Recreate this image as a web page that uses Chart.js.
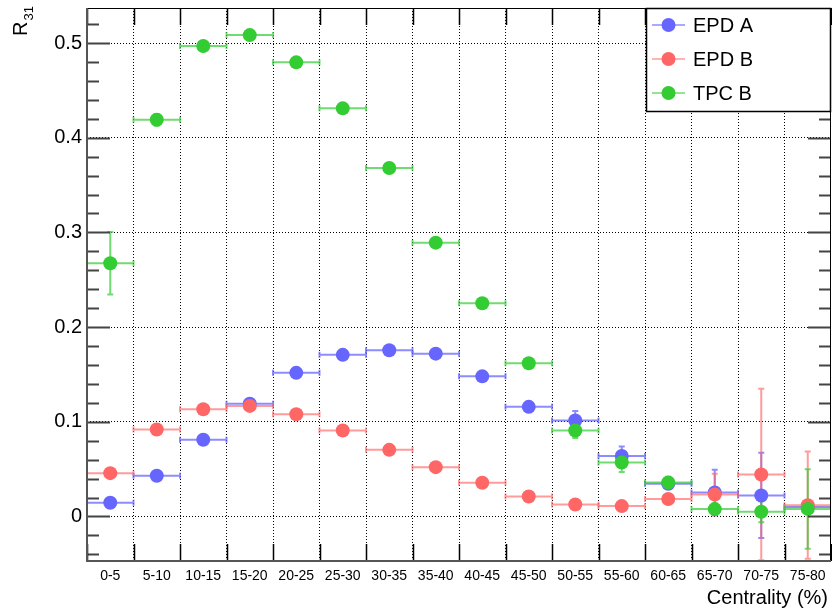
<!DOCTYPE html>
<html>
<head>
<meta charset="utf-8">
<script src="https://cdn.jsdelivr.net/npm/chart.js@4.4.1/dist/chart.umd.min.js"></script>
<style>
  html, body { margin: 0; padding: 0; background: #fff; }
  #wrap { width: 832px; height: 612px; }
</style>
</head>
<body>
<div id="wrap"><canvas id="r31-chart" width="832" height="612"></canvas></div>
<script>
var centrality = ['0-5', '5-10', '10-15', '15-20', '20-25', '25-30', '30-35', '35-40',
  '40-45', '45-50', '50-55', '55-60', '60-65', '65-70', '70-75', '75-80'];

var epdA = [0.0145, 0.043, 0.081, 0.119, 0.1517, 0.1707, 0.1756, 0.172,
  0.148, 0.1158, 0.1013, 0.064, 0.0345, 0.0253, 0.0222, 0.010];
var epdAErr = [0.002, 0.002, 0.002, 0.002, 0.002, 0.002, 0.002, 0.002,
  0.002, 0.003, 0.010, 0.010, 0.004, 0.024, 0.045, 0.004];

var epdB = [0.0458, 0.0918, 0.1133, 0.1168, 0.108, 0.0908, 0.0704, 0.0521,
  0.0356, 0.0211, 0.0127, 0.011, 0.0184, 0.0232, 0.0443, 0.012];
var epdBErr = [0.002, 0.002, 0.002, 0.002, 0.002, 0.002, 0.002, 0.002,
  0.002, 0.002, 0.003, 0.003, 0.004, 0.022, 0.0905, 0.0566];

var tpcB = [0.2674, 0.419, 0.4968, 0.5084, 0.4796, 0.431, 0.368, 0.2892,
  0.2252, 0.1619, 0.0908, 0.057, 0.0359, 0.0078, 0.005, 0.008];
var tpcBErr = [0.033, 0.006, 0.003, 0.003, 0.003, 0.003, 0.003, 0.003,
  0.003, 0.005, 0.008, 0.010, 0.006, 0.006, 0.011, 0.042];

var yTicks = [-0.04, -0.02, 0, 0.02, 0.04, 0.06, 0.08, 0.1, 0.12, 0.14, 0.16, 0.18,
  0.2, 0.22, 0.24, 0.26, 0.28, 0.3, 0.32, 0.34, 0.36, 0.38, 0.4, 0.42, 0.44,
  0.46, 0.48, 0.5, 0.52];
var yLabels = ['0', '0.1', '0.2', '0.3', '0.4', '0.5'];

// bin edges and centres come from the labels
var binLo = centrality.map(function (c) { return parseFloat(c.split('-')[0]); });
var binHi = centrality.map(function (c) { return parseFloat(c.split('-')[1]); });
var binMid = binLo.map(function (lo, i) { return (lo + binHi[i]) / 2; });
var binEdges = binLo.concat([binHi[binHi.length - 1]]);

var FONT = '"Liberation Sans", Arial, Helvetica, sans-serif';

function points(values) {
  return values.map(function (v, i) { return { x: binMid[i], y: v }; });
}

function isMajor(v) {
  return yLabels.indexOf(String(Math.round(v * 10) / 10)) >= 0 &&
    Math.abs(v * 10 - Math.round(v * 10)) < 1e-6;
}

var series = [
  { label: 'EPD A', data: epdA, err: epdAErr, color: 'rgb(102,102,255)', bar: 'rgba(102,102,255,0.75)', order: 3 },
  { label: 'EPD B', data: epdB, err: epdBErr, color: 'rgb(255,102,102)', bar: 'rgba(255,102,102,0.65)', order: 2 },
  { label: 'TPC B', data: tpcB, err: tpcBErr, color: 'rgb(51,204,51)', bar: 'rgba(51,204,51,0.7)', order: 1 }
];

// horizontal bin-width bars and vertical error bars, drawn under the markers
var errorBars = {
  id: 'errorBars',
  beforeDatasetsDraw: function (chart) {
    var ctx = chart.ctx, a = chart.chartArea;
    var xs = chart.scales.x, ys = chart.scales.y;
    ctx.save();
    ctx.beginPath();
    ctx.rect(a.left, a.top, a.right - a.left, a.bottom - a.top);
    ctx.clip();
    series.forEach(function (s) {
      ctx.strokeStyle = s.bar;
      ctx.lineWidth = 2;
      s.data.forEach(function (v, i) {
        var x0 = xs.getPixelForValue(binLo[i]);
        var x1 = xs.getPixelForValue(binHi[i]);
        var xm = xs.getPixelForValue(binMid[i]);
        var y = ys.getPixelForValue(v);
        var yt = ys.getPixelForValue(v + s.err[i]);
        var yb = ys.getPixelForValue(v - s.err[i]);
        ctx.beginPath();
        ctx.moveTo(x0, y); ctx.lineTo(x1, y);
        ctx.moveTo(x0, y - 3); ctx.lineTo(x0, y + 3);
        ctx.moveTo(x1, y - 3); ctx.lineTo(x1, y + 3);
        ctx.moveTo(xm, yt); ctx.lineTo(xm, yb);
        ctx.moveTo(xm - 3, yt); ctx.lineTo(xm + 3, yt);
        ctx.moveTo(xm - 3, yb); ctx.lineTo(xm + 3, yb);
        ctx.stroke();
      });
    });
    ctx.restore();
  }
};

// frame with inward ticks, axis titles and the legend box
var frame = {
  id: 'frame',
  afterDraw: function (chart) {
    var ctx = chart.ctx, a = chart.chartArea;
    var xs = chart.scales.x, ys = chart.scales.y;
    ctx.save();

    ctx.strokeStyle = '#444';
    ctx.lineWidth = 2;
    ys.ticks.forEach(function (t) {
      var y = Math.round(ys.getPixelForValue(t.value)) + 0.5;
      var len = isMajor(t.value) ? 23 : 12;
      ctx.beginPath();
      ctx.moveTo(a.left, y); ctx.lineTo(a.left + len, y);
      ctx.moveTo(a.right, y); ctx.lineTo(a.right - len, y);
      ctx.stroke();
    });
    ctx.strokeStyle = '#000';
    ctx.lineWidth = 1.5;
    xs.ticks.forEach(function (t) {
      var x = Math.round(xs.getPixelForValue(t.value)) + 0.5;
      ctx.beginPath();
      ctx.moveTo(x, a.bottom); ctx.lineTo(x, a.bottom - 17);
      ctx.moveTo(x, a.top); ctx.lineTo(x, a.top + 17);
      ctx.stroke();
    });

    ctx.lineWidth = 1;
    ctx.strokeStyle = '#000';
    ctx.strokeRect(a.left + 0.5, a.top + 0.5, a.right - a.left - 1, a.bottom - a.top);
    ctx.strokeStyle = '#555';
    ctx.lineWidth = 2;
    ctx.beginPath();
    ctx.moveTo(a.left, a.top); ctx.lineTo(a.left, a.bottom);
    ctx.lineTo(a.right, a.bottom);
    ctx.stroke();

    // axis titles
    ctx.fillStyle = '#000';
    ctx.textAlign = 'right';
    ctx.textBaseline = 'alphabetic';
    ctx.font = '20px ' + FONT;
    ctx.fillText('Centrality (%)', 828, 604);

    ctx.save();
    ctx.translate(27, 36);
    ctx.rotate(-Math.PI / 2);
    ctx.textAlign = 'left';
    ctx.font = '20px ' + FONT;
    ctx.fillText('R', 0, 0);
    ctx.font = '13px ' + FONT;
    ctx.fillText('31', 15.5, 6);
    ctx.restore();

    // legend
    var lx = 646, ly = 8, lw = 185, lh = 103;
    ctx.fillStyle = '#fff';
    ctx.fillRect(lx, ly, lw, lh);
    ctx.strokeStyle = '#000';
    ctx.lineWidth = 1.5;
    ctx.strokeRect(lx + 0.5, ly + 0.5, lw - 1, lh);
    ctx.font = '20px ' + FONT;
    ctx.textAlign = 'left';
    ctx.textBaseline = 'middle';
    series.forEach(function (s, i) {
      var y = 25 + i * 34;
      ctx.strokeStyle = s.bar;
      ctx.lineWidth = 1.5;
      ctx.beginPath();
      ctx.moveTo(652, y); ctx.lineTo(685, y);
      ctx.stroke();
      ctx.fillStyle = s.color;
      ctx.beginPath();
      ctx.arc(668.5, y, 7, 0, Math.PI * 2);
      ctx.fill();
      ctx.fillStyle = '#000';
      ctx.fillText(s.label, 693, y + 1);
    });
    ctx.restore();
  }
};

var ctx = document.getElementById('r31-chart');
var chart = new Chart(ctx, {
  type: 'scatter',
  data: {
    datasets: series.map(function (s) {
      return {
        label: s.label,
        data: points(s.data),
        order: s.order,
        pointRadius: 7,
        pointHoverRadius: 7,
        pointBorderWidth: 0,
        pointBackgroundColor: s.color,
        borderColor: s.color,
        showLine: false
      };
    })
  },
  options: {
    responsive: false,
    animation: false,
    devicePixelRatio: 1,
    layout: { autoPadding: false, padding: { left: 0, right: 1, top: 8, bottom: 0 } },
    plugins: { legend: { display: false }, tooltip: { enabled: false } },
    scales: {
      x: {
        type: 'linear',
        min: binEdges[0],
        max: binEdges[binEdges.length - 1],
        position: 'bottom',
        afterBuildTicks: function (scale) {
          scale.ticks = binEdges.map(function (v) { return { value: v }; });
        },
        afterFit: function (scale) { scale.height = 0; scale.paddingLeft = 0; scale.paddingRight = 0; },
        ticks: { display: false },
        border: { display: false, dash: [1, 2] },
        grid: {
          drawTicks: false,
          lineWidth: 1,
          color: function (c) {
            var v = c.tick ? c.tick.value : 0;
            return (v === binEdges[0] || v === binEdges[binEdges.length - 1]) ? 'rgba(0,0,0,0)' : '#000';
          }
        }
      },
      xl: {
        type: 'linear',
        min: binEdges[0],
        max: binEdges[binEdges.length - 1],
        position: 'bottom',
        afterBuildTicks: function (scale) {
          scale.ticks = binMid.map(function (v) { return { value: v }; });
        },
        afterFit: function (scale) { scale.height = 51; scale.paddingLeft = 0; scale.paddingRight = 0; },
        ticks: {
          autoSkip: false,
          maxRotation: 0,
          padding: 7,
          color: '#000',
          font: { family: FONT, size: 14 },
          callback: function (v, i) { return centrality[i]; }
        },
        border: { display: false },
        grid: { display: false, drawTicks: false }
      },
      y: {
        type: 'linear',
        min: -0.047,
        max: 0.537,
        afterBuildTicks: function (scale) {
          scale.ticks = yTicks.map(function (v) { return { value: v }; });
        },
        afterFit: function (scale) { scale.width = 87; scale.paddingTop = 0; scale.paddingBottom = 0; },
        ticks: {
          autoSkip: false,
          padding: 5,
          color: '#000',
          font: { family: FONT, size: 20 },
          callback: function (v) { return isMajor(v) ? String(Math.round(v * 10) / 10) : ''; }
        },
        border: { display: false, dash: [1, 2] },
        grid: {
          drawTicks: false,
          lineWidth: 1,
          color: function (c) {
            return (c.tick && isMajor(c.tick.value)) ? '#000' : 'rgba(0,0,0,0)';
          }
        }
      }
    }
  },
  plugins: [errorBars, frame]
});
</script>
</body>
</html>
